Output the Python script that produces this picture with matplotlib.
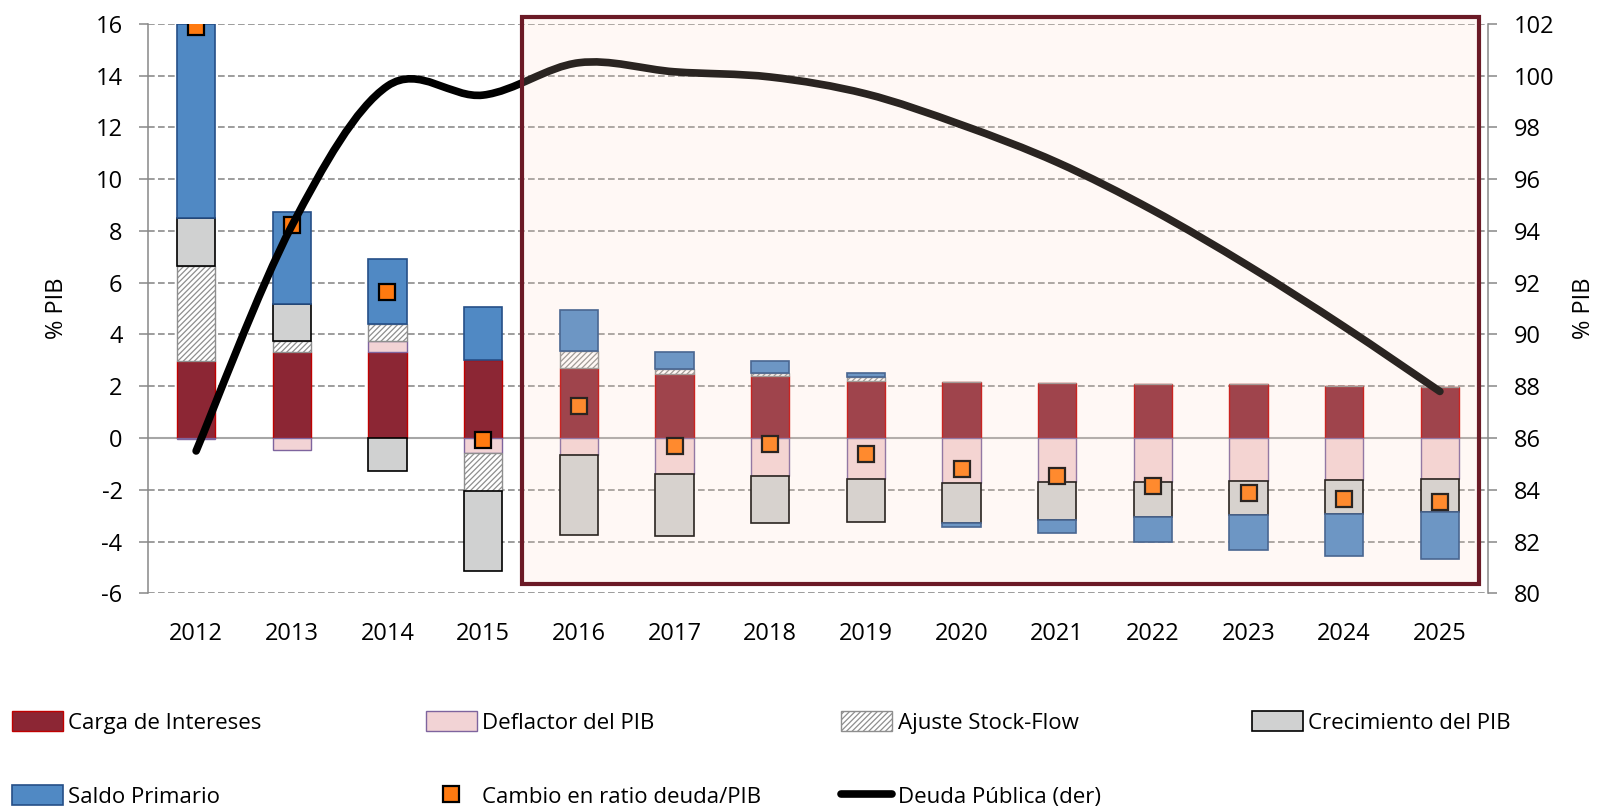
import matplotlib.pyplot as plt
import numpy as np
from matplotlib.path import Path
from matplotlib.patches import PathPatch, Rectangle, Patch
from matplotlib.lines import Line2D

plt.rcParams["font.family"] = ["Open Sans", "DejaVu Sans"]
plt.rcParams["hatch.linewidth"] = 0.9
plt.rcParams["axes.unicode_minus"] = False

years = ["2012", "2013", "2014", "2015", "2016", "2017", "2018",
         "2019", "2020", "2021", "2022", "2023", "2024", "2025"]

# contributions to change in debt ratio (% PIB)
interest = [2.96, 3.34, 3.34, 3.02, 2.70, 2.48, 2.38, 2.22, 2.16, 2.11, 2.08, 2.07, 2.02, 1.99]
deflator = [-0.05, -0.48, 0.39, -0.56, -0.64, -1.38, -1.47, -1.60, -1.74, -1.71, -1.69, -1.65, -1.62, -1.58]
stock_flow = [3.67, 0.39, 0.67, -1.47, 0.68, 0.18, 0.15, 0.14, 0.0, 0.0, 0.0, 0.0, 0.0, 0.0]
growth = [1.86, 1.46, -1.26, -3.09, -3.12, -2.39, -1.81, -1.66, -1.54, -1.44, -1.37, -1.34, -1.30, -1.29]
primary = [7.51, 3.56, 2.51, 2.06, 1.55, 0.68, 0.43, 0.16, -0.16, -0.52, -0.97, -1.35, -1.65, -1.82]
change = [15.9, 8.24, 5.64, -0.07, 1.25, -0.32, -0.22, -0.62, -1.20, -1.46, -1.84, -2.14, -2.36, -2.46]
debt = [85.5, 94.2, 99.6, 99.25, 100.5, 100.15, 99.95, 99.3, 98.1, 96.65, 94.8, 92.65, 90.3, 87.8]

series = [
    ("Carga de Intereses", interest, dict(facecolor="#8C2634", edgecolor="#C00000", linewidth=1.0)),
    ("Deflactor del PIB", deflator, dict(facecolor="#F2D3D5", edgecolor="#7E649E", linewidth=1.0)),
    ("Ajuste Stock-Flow", stock_flow, dict(facecolor="white", edgecolor="#8E8E8E", linewidth=1.0, hatch="//////")),
    ("Crecimiento del PIB", growth, dict(facecolor="#D0D1D1", edgecolor="black", linewidth=1.2)),
    ("Saldo Primario", primary, dict(facecolor="#5089C4", edgecolor="#254F87", linewidth=1.2)),
]

x = np.arange(len(years))

fig = plt.figure(figsize=(15.98, 8.08), dpi=100)
ax = fig.add_axes([0.0928, 0.2657, 0.8382, 0.7047])
ax2 = ax.twinx()

# stacked bars, positives and negatives stacked apart (Excel style)
pos_base = np.zeros(len(x))
neg_base = np.zeros(len(x))
for label, vals, style in series:
    vals = np.array(vals)
    bottoms = np.where(vals >= 0, pos_base, neg_base)
    ax.bar(x, vals, width=0.40, bottom=bottoms, zorder=3, **style)
    pos_base += np.where(vals >= 0, vals, 0)
    neg_base += np.where(vals < 0, vals, 0)

ax.plot(x, change, "s", ms=12, mfc="#FF7A10", mec="black", mew=1.6, zorder=5)

ax.set_xlim(-0.5, len(x) - 0.5)
ax.set_ylim(-6, 16)
ax.set_yticks(np.arange(-6, 17, 2))
ax.set_xticks(x)
ax.set_xticklabels(years)
ax.yaxis.grid(True, linestyle=(0, (4, 2)), color="#8C8C8C", linewidth=1.2, zorder=0)
ax.set_axisbelow(True)
ax.axhline(0, color="#A6A6A6", linewidth=1.5, zorder=1)

ax.tick_params(axis="x", length=0, pad=21, labelsize=17)
ax.tick_params(axis="y", length=6.5, width=1.1, color="#888888", pad=12, labelsize=17)
for s in ["top", "bottom", "right"]:
    ax.spines[s].set_visible(False)
ax.spines["left"].set_color("#888888")
ax.spines["left"].set_linewidth(1.1)
ax.set_ylabel("% PIB", fontsize=17)
ax.yaxis.set_label_coords(-0.059, 0.5)

ax2.set_ylim(80, 102)
ax2.set_yticks(np.arange(80, 103, 2))
ax2.tick_params(axis="y", length=6.5, width=1.1, color="#888888", pad=12, labelsize=17)
for s in ["top", "bottom", "left"]:
    ax2.spines[s].set_visible(False)
ax2.spines["right"].set_color("#888888")
ax2.spines["right"].set_linewidth(1.1)
ax2.set_ylabel("% PIB", fontsize=17, rotation=90, va="center")
ax2.yaxis.set_label_coords(1.0715, 0.5)

# smoothed debt line (Catmull-Rom style bezier through yearly values)
n = len(x)
verts = [(x[0], debt[0])]
codes = [Path.MOVETO]
for i in range(n - 1):
    a = max(i - 1, 0)
    b = min(i + 2, n - 1)
    c1 = (x[i] + (x[i + 1] - x[a]) / 6, debt[i] + (debt[i + 1] - debt[a]) / 6)
    c2 = (x[i + 1] - (x[b] - x[i]) / 6, debt[i + 1] - (debt[b] - debt[i]) / 6)
    verts += [c1, c2, (x[i + 1], debt[i + 1])]
    codes += [Path.CURVE4] * 3
ax2.add_patch(PathPatch(Path(verts, codes), facecolor="none", edgecolor="black",
                        linewidth=5.5, capstyle="round", joinstyle="round", zorder=4))

# highlighted projection period
ax2.add_patch(Rectangle((3.41, -5.63), 10.0, 21.88, transform=ax.transData,
                        facecolor=(1.0, 0.86, 0.77), alpha=0.17, edgecolor="none",
                        zorder=8, clip_on=False))
ax2.add_patch(Rectangle((3.41, -5.63), 10.0, 21.88, transform=ax.transData,
                        facecolor="none", edgecolor="#6B1A26", linewidth=3.0,
                        zorder=9, clip_on=False))

# legend, four equal-width columns
h = {label: Patch(**style) for label, _, style in series}
marker_h = Line2D([], [], marker="s", linestyle="none", ms=12, mfc="#FF7A10", mec="black", mew=1.6)
line_h = Line2D([], [], color="black", linewidth=5.5, solid_capstyle="round")
columns = [
    (0.0045, [h["Carga de Intereses"], h["Saldo Primario"]], ["Carga de Intereses", "Saldo Primario"]),
    (0.2635, [h["Deflactor del PIB"], marker_h], ["Deflactor del PIB", "Cambio en ratio deuda/PIB"]),
    (0.5235, [h["Ajuste Stock-Flow"], line_h], ["Ajuste Stock-Flow", "Deuda Pública (der)"]),
    (0.7805, [h["Crecimiento del PIB"]], ["Crecimiento del PIB"]),
]
for xpos, handles, labels in columns:
    fig.legend(handles, labels, loc="upper left", bbox_to_anchor=(xpos, 0.125),
               bbox_transform=fig.transFigure, frameon=False, fontsize=16,
               handlelength=2.3, handleheight=1.0, handletextpad=0.25,
               labelspacing=2.3, borderpad=0.2, borderaxespad=0.0)

fig.savefig("out.png", dpi=100)
